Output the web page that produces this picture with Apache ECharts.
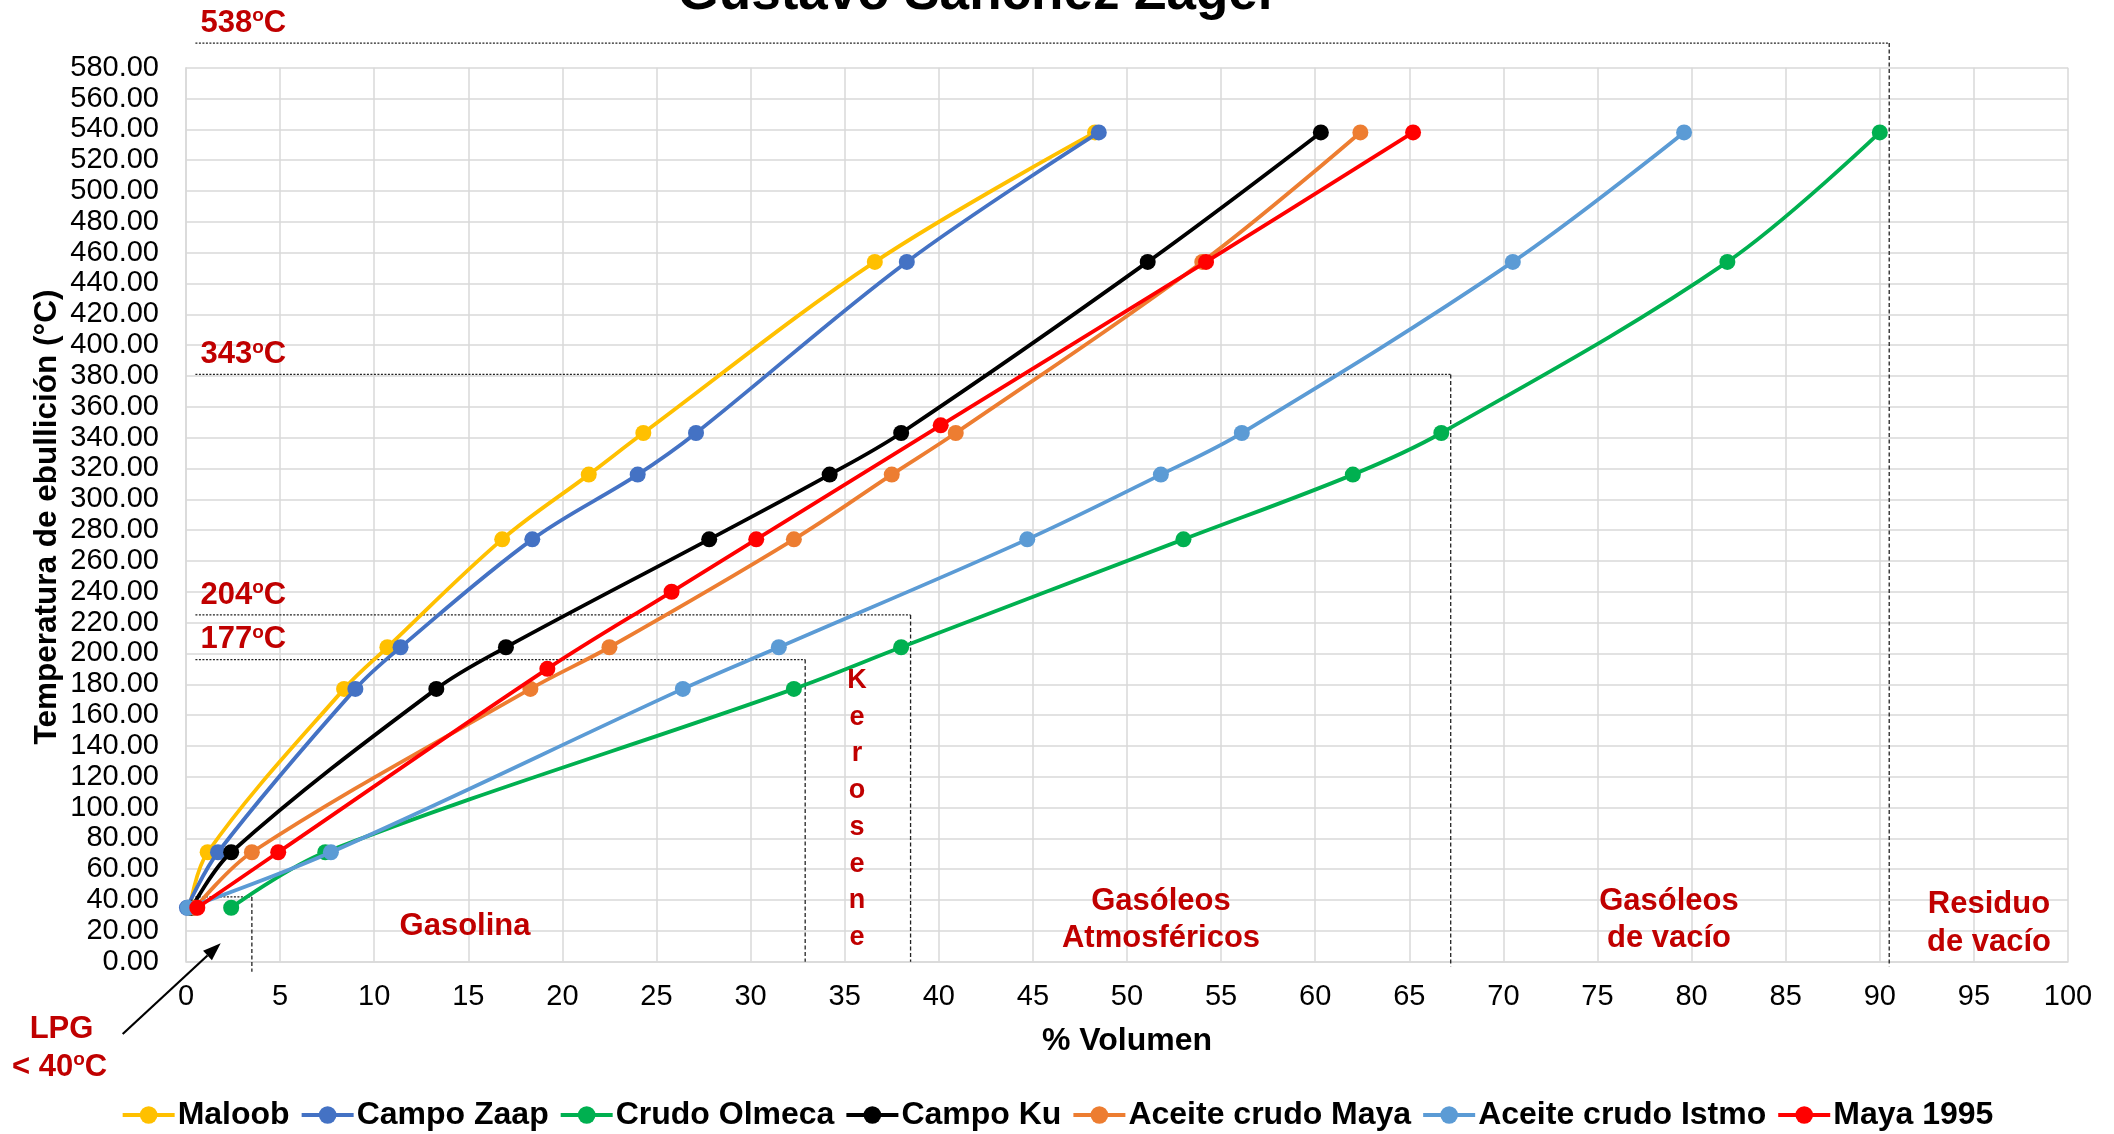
<!DOCTYPE html>
<html>
<head>
<meta charset="utf-8">
<script src="https://cdn.jsdelivr.net/npm/echarts@6/dist/echarts.min.js"></script>
<style>
html,body{margin:0;padding:0;background:#fff;}
#chart{width:2114px;height:1134px;}
</style>
</head>
<body>
<div id="chart"></div>
<script>
// ---------------- DATA ----------------
const temps = [35, 71, 177, 204, 274, 316, 343, 454, 538];
const maya1995Temps = [35, 71, 190, 240, 274, 348, 454, 538];

const maloob       = [0.2, 1.15, 8.4, 10.7, 16.8, 21.4, 24.3, 36.6, 48.3];
const campoZaap    = [0.05, 1.7, 9.0, 11.4, 18.4, 24.0, 27.1, 38.3, 48.5];
const crudoOlmeca  = [2.4, 7.4, 32.3, 38.0, 53.0, 62.0, 66.7, 81.9, 90.0];
const campoKu      = [0.3, 2.4, 13.3, 17.0, 27.8, 34.2, 38.0, 51.1, 60.3];
const aceiteMaya   = [0.5, 3.5, 18.3, 22.5, 32.3, 37.5, 40.9, 54.0, 62.4];
const aceiteIstmo  = [0.1, 7.7, 26.4, 31.5, 44.7, 51.8, 56.1, 70.5, 79.6];
const maya1995     = [0.6, 4.9, 19.2, 25.8, 30.3, 40.1, 54.2, 65.2];

const seriesNames = ['Maloob', 'Campo Zaap', 'Crudo Olmeca', 'Campo Ku', 'Aceite crudo Maya', 'Aceite crudo Istmo', 'Maya 1995'];
const seriesColors = ['#FFC000', '#4472C4', '#00B050', '#000000', '#ED7D31', '#5B9BD5', '#FF0000'];
const seriesX = [maloob, campoZaap, crudoOlmeca, campoKu, aceiteMaya, aceiteIstmo, maya1995];
const seriesT = [temps, temps, temps, temps, temps, temps, maya1995Temps];

// cut-point guide lines
const cutLabels = ['538', '343', '204', '177'];
const cutLevelY = [596, 381, 225, 196];
const cutEndX   = [90.5, 67.2, 38.5, 32.9];
const cutBottomY = [-3, -3, 0, 0];
const lpgBox = {y: 42, x: 3.5, bottom: -6.5, start: 0.5};
const guideStartX = 0.5;

const xTicks = {min: 0, max: 100, interval: 5};
const yTicks = {min: 0, max: 580, interval: 20};

// ---------------- CHART ----------------
const FONT = "'Liberation Sans', Arial, Helvetica, sans-serif";
const RED = '#C00000';
const chart = echarts.init(document.getElementById('chart'), null, {renderer: 'canvas'});

const lineSeries = seriesNames.map((name, i) => ({
  name: name,
  type: 'line',
  smooth: 0.35,
  symbol: 'circle',
  symbolSize: 16,
  color: seriesColors[i],
  lineStyle: {width: 3.8, color: seriesColors[i]},
  itemStyle: {color: seriesColors[i]},
  z: 3 + i,
  data: seriesX[i].map((x, k) => [x, seriesT[i][k]])
}));

const hData = [], vData = [];
cutLevelY.forEach((y, i) => {
  hData.push([guideStartX, y], [cutEndX[i], y], ['-', '-']);
  vData.push([cutEndX[i], y], [cutEndX[i], cutBottomY[i]], ['-', '-']);
});
hData.push([lpgBox.start, lpgBox.y], [lpgBox.x, lpgBox.y]);
vData.push([lpgBox.x, lpgBox.y], [lpgBox.x, lpgBox.bottom]);

const guideSeries = [
  {type: 'line', name: 'gh', data: hData, clip: false, silent: true, symbol: 'none', smooth: false,
   connectNulls: false, lineStyle: {color: '#222', width: 1.3, type: [2, 1.5]}, z: 2},
  {type: 'line', name: 'gv', data: vData, clip: false, silent: true, symbol: 'none', smooth: false,
   connectNulls: false, lineStyle: {color: '#222', width: 1.3, type: [4, 2.5]}, z: 2}
];

const option = {
  backgroundColor: '#ffffff',
  animation: false,
  grid: {left: 186, right: 46, top: 67.7, bottom: 172.3, containLabel: false},
  xAxis: {
    type: 'value', min: xTicks.min, max: xTicks.max, interval: xTicks.interval,
    axisLine: {show: true, lineStyle: {color: '#d9d9d9', width: 1.5}},
    axisTick: {show: false},
    splitLine: {show: true, lineStyle: {color: '#d9d9d9', width: 1.5}},
    axisLabel: {color: '#000', fontSize: 29, fontFamily: FONT, margin: 21}
  },
  yAxis: {
    type: 'value', min: yTicks.min, max: yTicks.max, interval: yTicks.interval,
    axisLine: {show: true, lineStyle: {color: '#d9d9d9', width: 1.5}},
    axisTick: {show: false},
    splitLine: {show: true, lineStyle: {color: '#d9d9d9', width: 1.5}},
    axisLabel: {color: '#000', fontSize: 29, fontFamily: FONT, margin: 27,
      formatter: v => v.toFixed(2)}
  },
  legend: {
    data: seriesNames,
    left: 'center', top: 1099, padding: 0,
    itemWidth: 52, itemHeight: 22, itemGap: 10,
    lineStyle: {width: 4},
    textStyle: {fontSize: 32, fontWeight: 'bold', color: '#000', fontFamily: FONT, padding: [0, 0, 0, -2]}
  },
  series: lineSeries.concat(guideSeries)
};
chart.setOption(option);

// ---------------- ANNOTATIONS ----------------
function txt(text, x, baseline, fs, color, align, extra) {
  return Object.assign({
    type: 'text', x: x, y: baseline - 0.35 * fs, z: 100,
    style: {text: text, fill: color, font: 'bold ' + fs + 'px ' + FONT,
      textAlign: align || 'left', textVerticalAlign: 'middle'}
  }, extra || {});
}
function degLabel(num, x, baseline) {
  const fs = 31;
  return {
    type: 'text', x: x, y: baseline - 0.35 * fs, z: 100,
    style: {
      text: '{n|' + num + '}{s|o}{n|C}',
      textAlign: 'left', textVerticalAlign: 'middle',
      rich: {
        n: {fontSize: fs, fontWeight: 'bold', fontFamily: FONT, fill: RED, color: RED, lineHeight: 34},
        s: {fontSize: 19, fontWeight: 'bold', fontFamily: FONT, fill: RED, color: RED, lineHeight: 34, padding: [0, 0, 14, 0]}
      }
    }
  };
}

const gfx = [];
gfx.push(txt('Gustavo Sánchez Zager', 978, 13, 53, '#000', 'center'));

cutLabels.forEach((t, i) => {
  const p = chart.convertToPixel({gridIndex: 0}, [guideStartX, cutLevelY[i]]);
  gfx.push(degLabel(t, p[0] + 5, p[1] - 9));
});

gfx.push(txt('% Volumen', 1127, 1052, 32, '#000', 'center'));
gfx.push({
  type: 'text', x: 47, y: 517, rotation: Math.PI / 2, z: 100,
  style: {text: 'Temperatura de ebullición (°C)', fill: '#000', font: 'bold 31.5px ' + FONT,
    textAlign: 'center', textVerticalAlign: 'middle'}
});

gfx.push(txt('Gasolina', 465, 937, 31, RED, 'center'));
gfx.push(txt('Gasóleos', 1161, 912, 31, RED, 'center'));
gfx.push(txt('Atmosféricos', 1161, 949, 31, RED, 'center'));
gfx.push(txt('Gasóleos', 1669, 912, 31, RED, 'center'));
gfx.push(txt('de vacío', 1669, 949, 31, RED, 'center'));
gfx.push(txt('Residuo', 1989, 915, 31, RED, 'center'));
gfx.push(txt('de vacío', 1989, 953, 31, RED, 'center'));
'Kerosene'.split('').forEach((ch, i) => {
  gfx.push(txt(ch, 857, 690 + i * 36.7, 27, RED, 'center'));
});
gfx.push(txt('LPG', 61.5, 1040, 31, RED, 'center'));
gfx.push(degLabel('< 40', 12, 1078));

const a0 = [122.7, 1034], a1 = [220.7, 943.3];
const dx = a1[0] - a0[0], dy = a1[1] - a0[1], L = Math.hypot(dx, dy);
const ux = dx / L, uy = dy / L, hl = 18, hw = 6.5;
const bx = a1[0] - ux * hl, by = a1[1] - uy * hl;
gfx.push({type: 'line', z: 100, shape: {x1: a0[0], y1: a0[1], x2: bx, y2: by},
  style: {stroke: '#000', lineWidth: 2.2}});
gfx.push({type: 'polygon', z: 100,
  shape: {points: [a1, [bx - uy * hw, by + ux * hw], [bx + uy * hw, by - ux * hw]]},
  style: {fill: '#000'}});

chart.setOption({graphic: {elements: gfx}});
</script>
</body>
</html>
